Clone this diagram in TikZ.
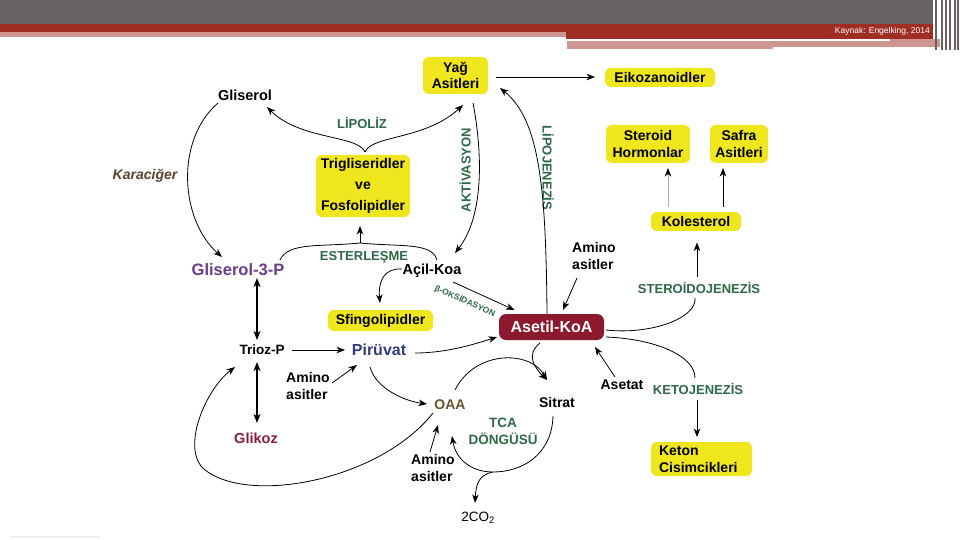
\documentclass[tikz,border=0pt]{standalone}
\usepackage{fontspec}
\setmainfont{Liberation Sans}
\usetikzlibrary{arrows.meta,calc}
\definecolor{yellowbox}{RGB}{240,230,30}
\definecolor{asetred}{RGB}{140,25,45}
\definecolor{procgreen}{RGB}{45,105,70}
\definecolor{karbrown}{RGB}{90,65,45}
\definecolor{g3purple}{RGB}{105,60,140}
\definecolor{pirblue}{RGB}{50,60,125}
\definecolor{glkred}{RGB}{140,30,60}
\definecolor{oaabrown}{RGB}{100,85,45}
\definecolor{hdgray}{RGB}{103,98,97}
\definecolor{hdred}{RGB}{160,45,35}
\definecolor{hdpink}{RGB}{205,150,145}

\begin{document}
\begin{tikzpicture}[x=1pt,y=-1pt,
  ybox/.style={fill=yellowbox,rounded corners=6pt,inner sep=1pt,align=center,font=\fontsize{14}{16.5}\selectfont\bfseries},
  lbl/.style={inner sep=1pt,font=\fontsize{14}{17}\selectfont\bfseries},
  proc/.style={inner sep=1pt,text=procgreen,font=\fontsize{13}{16}\selectfont\bfseries},
  arr/.style={-{Stealth[length=8.5pt,width=6.5pt,inset=2.5pt]},line width=0.8pt},
  darr/.style={{Stealth[length=9pt,width=7pt,inset=2.5pt]}-{Stealth[length=9pt,width=7pt,inset=2.5pt]},line width=1.4pt}]
        \useasboundingbox (0,0) rectangle (960,540);
        \fill[white] (0,0) rectangle (960,540);
        \fill[hdgray] (0,0) rectangle (933,24);
        \fill[hdred] (0,24) rectangle (566,32);
        \fill[hdred] (566,24) rectangle (933,39);
        \fill[hdpink] (0,32) rectangle (566,37);
        \fill[hdpink] (567,39) rectangle (940,47);
        \fill[white] (567,39) rectangle (890,41.5);
        \fill[hdpink] (567,47) rectangle (773,49.5);
        \foreach \xx in {936,942,946,950,955,958}
                \draw[hdgray,line width=1.2pt] (\xx,0) -- (\xx,50);
        \fill[gray!12] (10,536) rectangle (100,538);
        \node[text=white,anchor=east,inner sep=0pt,font=\fontsize{8.5}{10}\selectfont] (kaynak) at (930,31) {Kaynak: Engelking, 2014};

        \node[ybox,minimum width=65pt,minimum height=37pt] (yag) at (455.5,75.5) {Yağ\\Asitleri};
        \node[ybox,minimum width=110pt,minimum height=19pt] (eiko) at (660,77.5) {Eikozanoidler};
        \node[ybox,minimum width=94pt,minimum height=62pt,font=\fontsize{14}{21}\selectfont\bfseries] (trig) at (363,186) {Trigliseridler\\ve\\Fosfolipidler};
        \node[ybox,minimum width=105pt,minimum height=21pt] (sfingo) at (380.5,320.5) {Sfingolipidler};
        \node[ybox,minimum width=84pt,minimum height=38pt] (steroid) at (648,144) {Steroid\\Hormonlar};
        \node[ybox,minimum width=58pt,minimum height=38pt] (safra) at (739,144) {Safra\\Asitleri};
        \node[ybox,minimum width=90pt,minimum height=19pt] (kol) at (696,221.5) {Kolesterol};
        \node[ybox,minimum width=101pt,minimum height=34pt,align=left,text width=85pt] (keton) at (701.5,459) {Keton\\Cisimcikleri};
        \node[fill=asetred,rounded corners=7pt,minimum width=105pt,minimum height=26pt,text=white,font=\fontsize{16}{19}\selectfont\bfseries] (asetil) at (551.5,327) {Asetil-KoA};

        \node[lbl,font=\fontsize{14.5}{17}\selectfont\bfseries] (gliserol) at (245,95) {Gliserol};
        \node[lbl,text=karbrown,font=\fontsize{14}{17}\selectfont\bfseries\itshape] (karaciger) at (145,176) {Karaciğer};
        \node[proc] (lipoliz) at (362,123) {LİPOLİZ};
        \node[proc,rotate=90] (aktiv) at (465,170) {AKTİVASYON};
        \node[proc,rotate=-90] (lipojen) at (548,168) {LİPOJENEZİS};
        \node[lbl,text=g3purple,font=\fontsize{16.5}{19}\selectfont\bfseries] (g3p) at (238,270) {Gliserol-3-P};
        \node[proc] (ester) at (364,257) {ESTERLEŞME};
        \node[lbl,font=\fontsize{14.5}{17}\selectfont\bfseries] (acil) at (432,271) {Açil-Koa};
        \node[proc,inner sep=0pt,rotate=-24,font=\fontsize{8.5}{10}\selectfont\bfseries] (boks) at (465,301) {β-OKSİDASYON};
        \node[lbl,align=left] (amino1) at (594,256) {Amino\\asitler};
        \node[lbl,font=\fontsize{13.5}{16}\selectfont\bfseries] (trioz) at (262,350) {Trioz-P};
        \node[lbl,text=pirblue,font=\fontsize{16}{19}\selectfont\bfseries] (piruvat) at (379,350) {Pirüvat};
        \node[lbl,align=left] (amino2) at (308,386) {Amino\\asitler};
        \node[lbl,text=glkred,font=\fontsize{14.5}{17}\selectfont\bfseries] (glikoz) at (256,438) {Glikoz};
        \node[lbl,text=oaabrown] (oaa) at (450,405) {OAA};
        \node[lbl] (sitrat) at (557,402) {Sitrat};
        \node[proc,align=center,font=\fontsize{13.5}{17}\selectfont\bfseries] (tca) at (503,431) {TCA\\DÖNGÜSÜ};
        \node[lbl,align=left] (amino3) at (433,468) {Amino\\asitler};
        \node[lbl,font=\fontsize{13.5}{16}\selectfont] (co2) at (478,518) {2CO\textsubscript{2}};
        \node[lbl] (asetat) at (622,385) {Asetat};
        \node[proc] (sterlbl) at (699,288) {STEROİDOJENEZİS};
        \node[proc] (ketolbl) at (698,389) {KETOJENEZİS};

        \coordinate (lipo) at ($(trig)+(2,-34)$);
        \coordinate (esterj) at ($(trig)+(-3,57)$);
        \coordinate (tcafork) at ($(tca)+(-10,41)$);
        \coordinate (loopbot) at ($(glikoz)+(-51,32)$);

        \draw[arr] ($(yag)+(40,1.5)$) -- ($(eiko)+(-65,-0.5)$);
        \draw[arr] (lipo) .. controls +(-7,-17) and +(33,33) .. ($(gliserol)+(22,12)$);
        \draw[arr] (lipo) .. controls +(7,-17) and +(-38,35) .. ($(yag)+(7.5,29.5)$);
        \draw[arr] ($(gliserol)+(-27,8)$) .. controls +(-43,37) and +(-42,-37) .. ($(g3p)+(-16,-13)$);
        \draw[arr] ($(yag)+(17.5,27.5)$) .. controls +(9,47) and +(30,-38) .. ($(acil)+(23,-18)$);
        \draw[arr] ($(asetil)+(-4.5,-13)$) .. controls +(-1,-124) and +(40,32) .. ($(yag)+(44.5,12.5)$);
        \draw[line width=0.8pt] ($(g3p)+(42,-10)$) .. controls +(8,-18) and +(-40,4) .. (esterj) .. controls +(40,4) and +(-5,-18) .. ($(acil)+(5,-11)$);
        \draw[arr] (esterj) -- ($(trig)+(-3,40)$);
        \draw[arr] ($(acil)+(-30,-2)$) .. controls +(-17,-1) and +(-2,-23) .. ($(sfingo)+(-0.5,-17.5)$);
        \draw[arr] ($(acil)+(21,11)$) -- ($(asetil)+(-37,-17)$);
        \draw[arr] ($(amino1)+(-17,22)$) -- ($(asetil)+(11.5,-17)$);
        \draw[darr] ($(g3p)+(19,8)$) -- ($(trioz)+(-5,-10)$);
        \draw[darr] ($(trioz)+(-5,12)$) -- ($(glikoz)+(1,-15)$);
        \draw[arr] ($(trioz)+(30,0)$) -- ($(piruvat)+(-34,0)$);
        \draw[arr] ($(amino2)+(24,-3)$) -- ($(piruvat)+(-22,15)$);
        \draw[arr] ($(piruvat)+(36,3)$) .. controls +(30,0) and +(-25,8) .. ($(asetil)+(-54.5,10)$);
        \draw[arr] ($(piruvat)+(-9,17)$) .. controls +(6,22) and +(-22,-3) .. ($(oaa)+(-23,-1)$);
        \draw[arr] ($(asetil)+(-11.5,16)$) .. controls +(-15,12) and +(-12,-12) .. ($(sitrat)+(-10,-22)$);
        \draw[arr] ($(oaa)+(5,-15)$) .. controls +(20,-40) and +(-17,-30) .. ($(sitrat)+(-10,-22)$);
        \draw[arr] ($(sitrat)+(-4,14)$) .. controls +(-1,38) and +(30,0) .. (tcafork) .. controls +(-25,0) and +(3,20) .. ($(oaa)+(2,31)$);
        \draw[arr] (tcafork) .. controls +(-15,3) and +(1,-18) .. ($(co2)+(-3,-15)$);
        \draw[arr] ($(amino3)+(-3,-16)$) -- ($(oaa)+(-12,20)$);
        \draw[arr] ($(oaa)+(-17,8)$) .. controls +(-53,67) and +(45,35) .. (loopbot) .. controls +(-25,-20) and +(-30,23) .. ($(trioz)+(-27,17)$);
        \draw[arr] ($(asetat)+(-7,-8)$) -- ($(asetil)+(43.5,20)$);
        \draw[line width=0.8pt] ($(asetil)+(54.5,3)$) .. controls +(45,5) and +(2,20) .. ($(sterlbl)+(-4,10)$);
        \draw[arr] ($(sterlbl)+(-2,-11)$) -- ($(kol)+(1,21)$);
        \draw[arr,gray!60,-{Stealth[length=8.5pt,width=6.5pt,inset=2.5pt,color=black]}] ($(kol)+(-28,-14.5)$) -- ($(steroid)+(20,24)$);
        \draw[arr] ($(kol)+(27,-14.5)$) -- ($(safra)+(-16,24)$);
        \draw[line width=0.8pt] ($(asetil)+(54.5,10)$) .. controls +(50,2) and +(0,-22) .. ($(ketolbl)+(-3,-11)$);
        \draw[arr] ($(ketolbl)+(-1,11)$) -- ($(keton)+(-4.5,-22)$);
\end{tikzpicture}
\end{document}
